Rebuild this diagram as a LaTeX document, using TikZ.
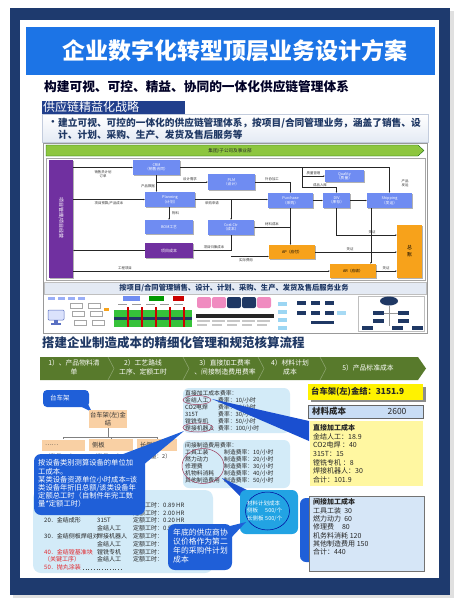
\documentclass[tikz,border=0pt]{standalone}
\usepackage{fontspec}
\setmainfont{Noto Sans CJK SC}
\usetikzlibrary{arrows.meta,calc,shadows}
\definecolor{cFrame}{HTML}{1E3A6E}
\definecolor{cTitle}{HTML}{1C74E6}
\definecolor{cNavyTxt}{HTML}{1F3864}
\definecolor{cLabel}{HTML}{213F8C}
\definecolor{cBulBg}{HTML}{E4EAF4}
\definecolor{cBulLn}{HTML}{C3CCDD}
\definecolor{cChev}{HTML}{587A2C}
\definecolor{cLCyan}{HTML}{D3EBF8}
\definecolor{cCallBlue}{HTML}{1F5FD8}
\definecolor{cCallCyan}{HTML}{22A3E3}
\definecolor{cYBright}{HTML}{FFF200}
\definecolor{cYLight}{HTML}{FFF7A1}
\definecolor{cPeach}{HTML}{F9D0A4}
\definecolor{cPurp}{HTML}{7030A0}
\definecolor{cPeri}{HTML}{6F8CF2}
\definecolor{cOrng}{HTML}{F7A21B}
\definecolor{cLime}{HTML}{8DC63F}
\definecolor{cWedge}{HTML}{1A4FD0}
\definecolor{cRed}{HTML}{E3262B}
\definecolor{cMatBg}{HTML}{C9DDF5}
\definecolor{cIndBg}{HTML}{D6E6F7}
\definecolor{cSGreen}{HTML}{36C23A}
\definecolor{cPink}{HTML}{F08BC0}
\definecolor{cEll}{HTML}{9C3B5A}
\newcommand\fz[2]{\fontsize{#1}{#2}\selectfont}
\newcommand\mbx[2]{\makebox[#1pt][l]{#2}}
\tikzset{
  shad/.style={drop shadow={shadow xshift=.8pt, shadow yshift=-.8pt, fill=black!50, opacity=.6}},
  pbox/.style={fill=cPeri, text=white, font=\fz{3.8}{4.4}, align=center, inner sep=0pt, shad},
  qbox/.style={fill=cPurp, text=white, font=\fz{4}{4.6}, align=center, inner sep=0pt, shad},
  obox/.style={fill=cOrng, text=black, font=\fz{3.8}{4.4}, align=center, inner sep=0pt, shad},
  arr/.style={draw=black!85, line width=.35pt, -{Stealth[length=1.6pt,width=1.4pt]}},
  lab/.style={font=\fz{3.4}{4}, text=black!80, inner sep=0pt, align=center},
  chevtxt/.style={text=white, font=\fz{6.8}{9.5}, align=center, inner sep=0pt},
  peachbox/.style={fill=cPeach, text=black!80, inner sep=0pt},
  kidbox/.style={fill=cPeach, text=black!80, font=\fz{6.3}{7}, align=left, inner sep=3pt, minimum height=11pt},
  treeln/.style={draw=black!50, line width=.6pt},
  ellc/.style={draw=cEll, line width=.5pt},
  tabtxt/.style={anchor=north west, inner sep=0pt, align=left, text=black!85},
}
\begin{document}
\begin{tikzpicture}[x=1pt,y=-1pt]
\useasboundingbox (0,0) rectangle (460,600);
\fill[white] (0,0) rectangle (460,600);
% frame
\fill[black!12] (13,11) rectangle (454,598);
\fill[cFrame] (10,8) rectangle (450,595);
\fill[white] (20,20) rectangle (439,578);

% title
\node[fill=cTitle, minimum width=409pt, minimum height=48pt, inner sep=0pt] (tbar) at (230.5,51) {};
\node[text=white, font=\fz{23}{26}\bfseries, inner sep=0pt] (title) at (235,51) {企业数字化转型顶层业务设计方案};
\node[anchor=west, font=\fz{12.7}{14}\bfseries, text=black!85!blue, inner sep=0pt] (sub) at (44,87) {构建可视、可控、精益、协同的一体化供应链管理体系};

% strategy label
\node[fill=cLabel, minimum width=143pt, minimum height=13pt, inner sep=0pt] (lbar) at (113.5,107.5) {};
\node[anchor=west, text=white, font=\fz{12}{13}, inner sep=0pt] (ltxt) at (43,107) {供应链精益化战略};

% bullet box
\node[draw=cBulLn, top color=white, bottom color=cBulBg, minimum width=386pt, minimum height=28pt, inner sep=0pt] (bbox) at (235,128.5) {};
\node[anchor=west, text=cNavyTxt, font=\fz{9.7}{12}\bfseries, inner sep=0pt] (bul) at (48,123) {•};
\node[anchor=west, text=cNavyTxt, font=\fz{9.7}{12}\bfseries, inner sep=0pt] (bl1) at (58,123) {建立可视、可控的一体化的供应链管理体系，按项目/合同管理业务，涵盖了销售、设};
\node[anchor=west, text=cNavyTxt, font=\fz{9.7}{12}\bfseries, inner sep=0pt] (bl2) at (58,135) {计、计划、采购、生产、发货及售后服务等};

% embedded diagram frame
\node[draw=black!40, line width=.5pt, minimum width=384pt, minimum height=190pt, inner sep=0pt] (emb) at (235,238) {};
\fill[cLime, draw=green!35!black, line width=.3pt] (46,145) -- (418,145) -- (424,150.5) -- (418,156) -- (46,156) -- cycle;
\node[lab, font=\fz{4.6}{5}, text=black!85] (grp) at (230,150.5) {集团/子公司及事业部};
\draw[black!35, line width=.3pt] (46,158) rectangle (425,280);

% flow boxes
\node[qbox, minimum width=24pt, minimum height=118pt] (pb) at (61,219) {};
\node[text=white, font=\fz{5}{6}, rotate=-90, inner sep=0pt] (pbt) at (61,218) {项目管理/项目经营};
\node[pbox, minimum width=47pt, minimum height=15pt] (crm) at (156.5,167.5) {CRM\\（销售合同）};
\node[pbox, minimum width=47pt, minimum height=16pt] (plm) at (231.5,182) {PLM\\（设计）};
\node[pbox, minimum width=39pt, minimum height=12pt] (qua) at (344.5,176) {Quality\\（质量）};
\node[pbox, minimum width=50pt, minimum height=15pt] (pln) at (170,199.5) {Planning\\（计划）};
\node[pbox, minimum width=45pt, minimum height=15pt] (pur) at (290.5,200.5) {Purchase\\（采购）};
\node[pbox, minimum width=27pt, minimum height=15pt] (div) at (336.5,200.5) {DIV\\（库存）};
\node[pbox, minimum width=45pt, minimum height=15pt] (shp) at (389.5,200.5) {Shipping\\（发运）};
\node[pbox, minimum width=48pt, minimum height=14pt] (bom) at (169,227) {BOM工艺};
\node[pbox, minimum width=46pt, minimum height=15pt] (cst) at (231,227.5) {Cost Ctr\\（成本）};
\node[qbox, minimum width=48pt, minimum height=15pt] (prj) at (169,250.5) {项目成本};
\node[obox, minimum width=46pt, minimum height=14pt] (ap) at (292,252) {AP（应付）};
\node[obox, minimum width=46pt, minimum height=14pt] (ar) at (353,271) {AR（应收）};
\node[obox, minimum width=25pt, minimum height=53pt, font=\fz{5}{7}] (gl) at (409.5,251.5) {总\\账};

% flow connectors
\draw[arr] (pb.east |- crm.west) -- (crm.west);
\node[lab] at (103,174.5) {销售员计划\\订单};
\draw[arr] (crm.south) -- (crm.south |- pln.north);
\node[lab, anchor=east] at (155,186.5) {产品数据};
\draw[arr] (crm.south |- plm.west) -- (plm.west);
\node[lab] at (190,179.5) {设计需求};
\draw[arr] (crm.east) -- (crm.east -| shp.north) -- (shp.north);
\node[lab] at (405,183) {产品\\发运};
\coordinate (jq) at (302,167.5);
\draw[arr] (jq) |- (qua.west);
\node[lab] at (313.5,173.3) {质量管理};
\draw[arr] (jq) -- ++(0,20) -| (div.north);
\node[lab] at (320,185) {成品入库};
\draw[arr] (plm.east) -| (pur.north);
\node[lab] at (272,179.5) {外协加工};
\draw[arr] (pln.east) -- (pln.east -| pur.west);
\node[lab] at (212,203.5) {采购申请};
\draw[arr] (pur.east) -- (div.west);
\draw[arr] (div.east) -- (shp.west);
\draw[arr] (bom.north |- pln.south) -- (bom.north);
\node[lab, anchor=west] at (172,213.5) {物料};
\draw[arr] (pb.east |- pln.west) -- (pln.west);
\node[lab] at (109,203.5) {项目预算/产品成本};
\draw[arr] (cst.north |- pln.east) -- (cst.north);
\draw[arr] (pur.south) -- (pur.south |- ap.north);
\draw[arr] (pur.south |- cst.east) -- (cst.east);
\node[lab] at (272,224.5) {材料成本};
\draw[arr] (div.south) |- ($(gl.west)+(0,-16.5)$);
\node[lab] at (372,232.3) {凭证};
\draw[arr] (ap.east) -- (ap.east -| gl.west);
\node[lab] at (350,249.3) {凭证};
\coordinate (sx) at ($(shp.south west)+(4,0)$);
\draw[arr] (sx) -- (sx |- ar.north);
\draw[arr] (ar.east) -- (ar.east -| gl.west);
\node[lab] at (386,268.3) {凭证};
\draw[arr] (prj.west) -- (prj.west -| pb.east);
\draw[arr] (cst.south) |- (prj.east);
\node[lab] at (214,247.3) {项目归集成本};
\draw[arr] (pb.east |- ar.west) -- (ar.west);
\node[lab] at (125,268) {工程项目};
\coordinate (ex) at (231,256.5);
\draw[arr] (ex) -- (ex -| ap.west);
\node[lab] at (246,260.3) {实际费用};

% bottom bar of embedded picture
\node[fill=cBulBg, draw=black!25, minimum width=382pt, minimum height=12pt, inner sep=0pt] (pbar2) at (235,288) {};
\node[text=cNavyTxt, font=\fz{7.3}{8}\bfseries, inner sep=0pt] (pbtxt) at (234,288) {按项目/合同管理销售、设计、计划、采购、生产、发货及售后服务业务};

% strip of thumbnails
\foreach \x in {48,58,68,78} \fill[cPeri!70] (\x,297) rectangle ++(7,3);
\draw[cPeri!80!black, fill=cPeri!25, line width=.5pt, rounded corners=1pt] (48,310) rectangle (64,320);
\fill[cPeri!80!black] (54,320) rectangle (58,323);
\fill[cPeri!80!black] (51,323) rectangle (61,324.5);
\foreach \x/\y in {70/303, 88/303, 72/311, 90/311, 74/320, 92/320} \draw[black!35, fill=white, line width=.3pt] (\x,\y) rectangle ++(12,5);
\fill[cOrng] (104,308) rectangle ++(5,3);
\fill[cPeri] (123,296) rectangle (140,300.5);
\fill[green!60!black] (149,296) rectangle (164,300.5);
\fill[red!80!black] (173,296) rectangle (184,300.5);
\foreach \x in {118,132,146,160,174} \draw[black!40, line width=.3pt] (\x,304) -- ++(9,0);
\fill[cSGreen] (114,310) rectangle (192,327);
\fill[cNavyTxt] (114,316.5) rectangle (192,320);
\foreach \x in {127,141,155,169,183} \fill[red!80!black] (\x,307) rectangle ++(2,20);
\foreach \x/\c in {197/cPink, 212/cPink, 227/cNavyTxt, 242/cNavyTxt, 257/cPink} \fill[\c, rounded corners=2pt] (\x,297) rectangle ++(14,11);
\fill[black!85] (196,314) rectangle (274,317.5);
\foreach \x in {197,212,227,242,257} {\fill[black!22] (\x,320) rectangle ++(13,2); \fill[black!22] (\x,324) rectangle ++(10,2);}
\foreach \y in {302,310,318,326} \fill[cCallCyan!45] (278,\y) rectangle ++(9,4);
\foreach \x in {297,311,325} {\fill[cNavyTxt] (\x,301) rectangle ++(9,4); \fill[cNavyTxt] (\x,311) rectangle ++(9,4);}
\fill[cNavyTxt] (311,321) rectangle ++(23,3);
\fill[cCallCyan!40] (337,311) rectangle ++(9,4);
\draw[black!25, line width=.3pt] (358,296) rectangle (424,331);
\fill[cNavyTxt] (389,301) ellipse [x radius=9pt, y radius=4.5pt];
\draw[black!40, line width=.3pt] (389,305.5) -- (389,326) (378,313) -- (404,313);
\foreach \x/\y in {373/311, 398/311, 373/319, 398/319, 362/326, 392/326, 412/326} \fill[cNavyTxt] (\x,\y) rectangle ++(11,3.5);

% section 2
\node[anchor=west, text=cNavyTxt, font=\fz{12.5}{14}\bfseries, inner sep=0pt] (sec2) at (42,343) {搭建企业制造成本的精细化管理和规范核算流程};
\fill[cChev] (40,357) -- (418,357) -- (426,368.5) -- (418,380) -- (40,380) -- cycle;
\foreach \x in {108,183,258,320} \draw[white, opacity=.3, line width=.6pt] (\x,357) -- (\x+6,368.5) -- (\x,380);
\node[chevtxt] (s1) at (74,367.5) {1）、产品物料清\\单};
\node[chevtxt] (s2) at (143,367.5) {2）工艺路线\\工序、定额工时};
\node[chevtxt] (s3) at (225,367.5) {3）直接加工费率\\、间接制造费用费率};
\node[chevtxt] (s4) at (290,367.5) {4）材料计划\\成本};
\node[chevtxt] (s5) at (368,368) {5）产品标准成本};

% process table region
\fill[cLCyan, rounded corners=8pt] (33,490) rectangle (213,573);
\node[tabtxt, font=\fz{6}{7.8}] (tab) at (44,502) {%
\mbx{53}{}\mbx{36}{}定额工时：0.89 HR\\
\mbx{53}{}\mbx{36}{}定额工时：2.00 HR\\
\mbx{53}{20．金结成形}\mbx{36}{315T}定额工时：0.20 HR\\
\mbx{53}{}\mbx{36}{金结人工}定额工时：0.5\\
\mbx{53}{30．金结侧板焊组对}\mbx{36}{焊接机器人}定额工时：\\
\mbx{53}{}\mbx{36}{金结人工}定额工时：\\
\mbx{53}{\textcolor{cRed}{40．金结镗基准块}}\mbx{36}{镗铣专机}定额工时：\\
\mbx{53}{\textcolor{cRed}{（关键工序）}}\mbx{36}{金结人工}定额工时：\\
\textcolor{cRed}{50．抛丸涂装}};
\draw[dotted, line width=.7pt, black!70] (83,569) -- (122,569);

% tree
\node[fill=cCallBlue, rounded corners=4pt, minimum width=46pt, minimum height=17pt, inner sep=0pt] (tc) at (66,398.5) {};
\fill[cCallBlue] (78,405) -- (92,412) -- (86,400) -- cycle;
\node[anchor=west, text=white, font=\fz{6.5}{7}, inner sep=0pt] (tct) at (50,398) {台车架};
\node[peachbox, minimum width=38pt, minimum height=18pt, font=\fz{6.3}{8}, align=center] (par) at (108,419) {台车架(左)金\\结};
\node[kidbox, text width=37pt] (c1) at (63.5,445) {……};
\node[kidbox, text width=38pt] (c2) at (111,445) {侧板};
\node[kidbox, text width=34pt] (c3) at (157,445) {长侧板};
\draw[treeln] (par.south) -- ++(0,9) coordinate (tj);
\draw[treeln] (c1.north |- tj) -- (c3.north |- tj);
\foreach \c in {c1,c2,c3} \draw[treeln] (\c.north |- tj) -- (\c.north);
\foreach \x in {45,92,140} \node[anchor=west, font=\fz{5.5}{6}, text=black!80, inner sep=0pt] at (\x,456) {（数量：2）};

% rate boxes
\node[fill=cLCyan, rounded corners=6pt, minimum width=107pt, minimum height=45pt, inner sep=0pt] (rate1) at (236.5,410.5) {};
\node[tabtxt, font=\fz{5.8}{7}] (r1t) at (185,390) {直接加工成本费率：\\
\mbx{33}{金结人工}费率：10/小时\\
\mbx{33}{CO2电焊}费率：20/小时\\
\mbx{33}{315T}费率：30/小时\\
\mbx{33}{镗铣专机}费率：50/小时\\
\mbx{33}{焊接机器人}费率：100/小时};
\node[fill=cLCyan, rounded corners=6pt, minimum width=107pt, minimum height=48pt, inner sep=0pt] (rate2) at (236.5,464) {};
\node[tabtxt, font=\fz{5.8}{7}] (r2t) at (185,442) {间接制造费用费率：\\
\mbx{39}{工具工装}制造费率：10/小时\\
\mbx{39}{燃力动力}制造费率：20/小时\\
\mbx{39}{修理费}制造费率：30/小时\\
\mbx{39}{机物料消耗}制造费率：40/小时\\
\mbx{39}{其他制造费用}制造费率：50/小时};
\draw[ellc] (197,400) ellipse [x radius=14pt, y radius=4.5pt];
\draw[ellc] (198,427.5) ellipse [x radius=15pt, y radius=4.5pt];
\draw[ellc] (203,466) ellipse [x radius=21pt, y radius=17.5pt];

% right column
\fill[black!45] (311,387) rectangle (426,402);
\node[fill=cYBright, minimum width=115pt, minimum height=15.5pt, inner sep=0pt] (ytop) at (365.5,392) {};
\node[anchor=west, font=\fz{8.3}{9}\bfseries, text=black!85, inner sep=0pt] (ytt) at (311,392) {台车架(左)金结：3151.9};
\node[fill=cMatBg, draw=black!60, line width=.5pt, minimum width=115pt, minimum height=13pt, inner sep=0pt] (mat) at (365.5,411.5) {};
\node[anchor=west, font=\fz{8.5}{9}\bfseries, text=black!85, inner sep=0pt] (matt) at (312,411.5) {材料成本};
\node[font=\fz{8.5}{9}, text=black!85, inner sep=0pt] (matv) at (397,411.5) {2600};
\node[fill=cYLight, minimum width=113pt, minimum height=65pt, inner sep=0pt] (dir) at (366.5,453.5) {};
\node[tabtxt, font=\fz{7}{8.6}] (dirt) at (313,424.3) {\textbf{直接加工成本}\\
金结人工：18.9\\
CO2电焊 ：40\\
315T：15\\
镗铣专机 ：8\\
焊接机器人：30\\
合计：101.9};
\fill[cCallBlue, rounded corners=6pt] (300,498) rectangle (330,562);
\node[fill=cIndBg, draw=black!55, line width=.5pt, minimum width=115pt, minimum height=75pt, inner sep=0pt] (ind) at (366.5,533.5) {};
\node[tabtxt, font=\fz{7}{8.3}] (indt) at (313,498.5) {\textbf{间接加工成本}\\
工具工装\ \ 30\\
燃力动力\ \ 60\\
修理费\ \ \ \ \ 80\\
机务料消耗 120\\
其他制造费用 150\\
合计：440};

% wedges and callouts
\fill[cWedge] (212,399) -- (309,421) -- (309,441) -- cycle;
\node[fill=cCallBlue, rounded corners=7pt, minimum width=111pt, minimum height=61pt, inner sep=0pt] (co1) at (89.5,484.5) {};
\fill[cCallBlue] (118,456) -- (184,431) -- (142,466) -- cycle;
\node[tabtxt, text=white, font=\fz{7.3}{8.2}] (co1t) at (38,459.5) {按设备类别测算设备的单位加\\
工成本。\\
某类设备资源单位小时成本=该\\
类设备年折旧总额/该类设备年\\
定额总工时（自制件年完工数\\
量*定额工时）};
\fill[cWedge] (222,478) -- (247,490) -- (241,497) -- cycle;
\node[fill=cCallCyan, rounded corners=6pt, minimum width=58pt, minimum height=44pt, inner sep=0pt] (co2) at (269,512) {};
\draw[blue!60!black, line width=.5pt] (267.5,511) ellipse [x radius=22pt, y radius=19pt];
\node[tabtxt, text=white, font=\fz{5.5}{7.5}] (co2t) at (247,500.5) {材料计划成本\\
\mbx{18}{侧板}500/个\\
\mbx{18}{长侧板}500/个};
\node[fill=cCallBlue, rounded corners=7pt, minimum width=64pt, minimum height=46pt, inner sep=0pt] (co3) at (200,547) {};
\fill[cCallBlue] (222,528) -- (246,522) -- (229,540) -- cycle;
\node[tabtxt, text=white, font=\fz{7.8}{8.8}] (co3t) at (173,529) {年底的供应商协\\
议价格作为第二\\
年的采购件计划\\
成本};
\end{tikzpicture}
\end{document}
